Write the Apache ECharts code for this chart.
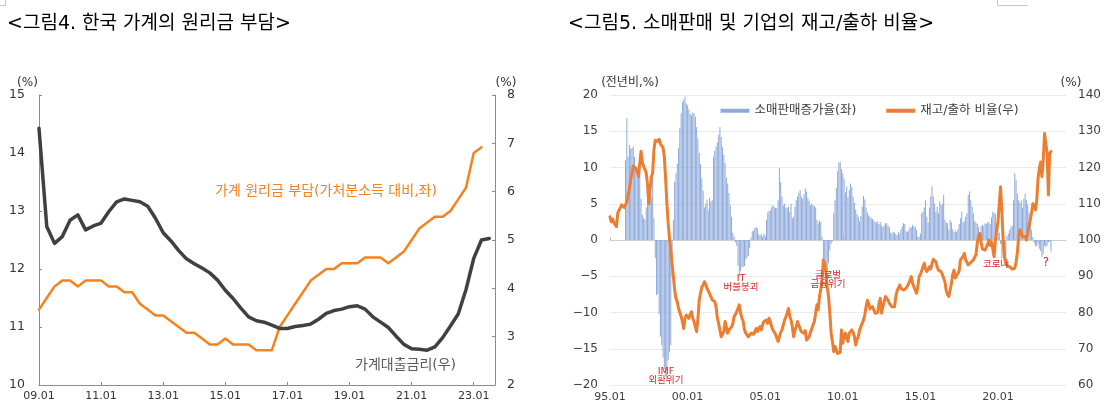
<!DOCTYPE html>
<html><head><meta charset="utf-8">
<script src="https://cdn.jsdelivr.net/npm/echarts@6/dist/echarts.min.js"></script>
<style>html,body{margin:0;padding:0;background:#fff}#c{width:1118px;height:414px}</style>
</head><body><div id="c"></div>
<script>
// ---------- Figure 4 : quarterly, 2009 Q1 .. ----------
const leftStartQuarter = '09.01';
const leftTickLabels = ['09.01','11.01','13.01','15.01','17.01','19.01','21.01','23.01'];
const leftLeftTicks = [10, 11, 12, 13, 14, 15];
const leftRightTicks = [2, 3, 4, 5, 6, 7, 8];
// 가계 원리금 부담(가처분소득 대비, %)  - left axis
const burden = [11.3, 11.5, 11.7, 11.8, 11.8, 11.7, 11.8, 11.8, 11.8, 11.7, 11.7, 11.6,
  11.6, 11.4, 11.3, 11.2, 11.2, 11.1, 11.0, 10.9, 10.9, 10.8, 10.7, 10.7,
  10.8, 10.7, 10.7, 10.7, 10.6, 10.6, 10.6, 11.0, 11.2, 11.4, 11.6, 11.8,
  11.9, 12.0, 12.0, 12.1, 12.1, 12.1, 12.2, 12.2, 12.2, 12.1, 12.2, 12.3,
  12.5, 12.7, 12.8, 12.9, 12.9, 13.0, 13.2, 13.4, 14.0, 14.1];
// 가계대출금리(%) - right axis
const loanRate = [7.31, 5.28, 4.93, 5.07, 5.41, 5.52, 5.21, 5.29, 5.35, 5.59, 5.79, 5.85,
  5.82, 5.79, 5.70, 5.45, 5.15, 4.98, 4.78, 4.61, 4.51, 4.42, 4.32, 4.17,
  3.96, 3.79, 3.59, 3.41, 3.33, 3.30, 3.24, 3.17, 3.17, 3.21, 3.23, 3.26,
  3.36, 3.48, 3.54, 3.57, 3.62, 3.64, 3.57, 3.41, 3.30, 3.19, 3.01, 2.84,
  2.75, 2.74, 2.72, 2.79, 2.98, 3.22, 3.47, 3.97, 4.62, 5.00, 5.03];

// ---------- Figure 5 : monthly, from 1995.01 ----------
const rightTickLabels = ['95.01','00.01','05.01','10.01','15.01','20.01'];
const rightLeftTicks = [-20, -15, -10, -5, 0, 5, 10, 15, 20];
const rightRightTicks = [60, 70, 80, 90, 100, 110, 120, 130, 140];
const retailStart = '1996.01';
// 소매판매증가율 (전년비, %) - left axis
const retailGrowth = [
  11.0, 16.8, 11.5, 13.1, 12.6, 12.7, 12.9, 11.5, 9.5, 8.7, 10.5, 9.8,      // 1996
  5.7, 3.5, 3.0, 2.8, 4.5, 5.8, 5.9, 5.7, 6.0, 8.7, 3.0, -2.5,              // 1997
  -7.6, -7.4, -10.2, -13.3, -14.5, -16.2, -17.8, -18.8, -19.5, -16.6, -15.5, -14.5, // 1998
  -5.0, 2.8, 8.0, 9.2, 10.5, 12.7, 15.5, 17.5, 19.0, 19.3, 19.8, 18.8,      // 1999
  18.6, 18.0, 17.4, 17.2, 17.6, 17.5, 17.0, 15.6, 14.0, 12.0, 10.5, 8.5,    // 2000
  6.8, 4.5, 5.0, 5.6, 4.1, 5.8, 5.3, 5.5, 11.5, 12.3, 12.9, 13.5,           // 2001
  14.5, 15.6, 14.2, 12.8, 11.8, 10.6, 8.6, 7.8, 6.5, 4.8, 3.2, 1.0,         // 2002
  0.5, -0.3, -0.8, -3.6, -5.0, -4.3, -3.8, -3.7, -3.6, -2.7, -2.4, -2.2,    // 2003
  -1.1, 0.3, 1.2, 1.3, 1.7, 1.8, 1.6, 0.8, 0.7, 0.8, 0.5, 0.9,              // 2004
  0.6, 2.8, 3.8, 4.0, 4.1, 4.6, 4.8, 4.6, 4.4, 4.4, 5.5, 9.9,               // 2005
  8.0, 6.0, 4.8, 5.0, 4.5, 4.4, 4.6, 3.9, 5.0, 3.0, 3.2, 4.6,               // 2006
  5.5, 6.0, 6.5, 6.9, 6.0, 5.7, 6.3, 7.1, 6.7, 5.8, 5.4, 4.8,               // 2007
  5.0, 4.8, 4.7, 4.5, 2.8, 2.3, 2.7, 2.5, 0.5, -5.1, -4.1, -3.7,            // 2008
  -4.4, -3.2, -1.4, -0.5, -0.2, 3.7, 5.5, 7.2, 9.5, 10.7, 10.8, 9.8,        // 2009
  9.2, 8.5, 6.6, 7.4, 5.9, 6.9, 7.8, 7.3, 6.0, 5.1, 4.2, 3.6,               // 2010
  3.2, 2.6, 3.3, 4.6, 6.1, 5.6, 4.5, 3.8, 3.4, 3.2, 3.0, 2.9,               // 2011
  2.7, 2.5, 2.4, 2.6, 2.2, 2.5, 2.0, 1.8, 2.0, 2.3, 2.3, 2.0,               // 2012
  1.8, 1.0, 0.9, 1.1, 1.0, 0.8, 0.7, 1.1, 0.9, 1.5, 1.9, 2.3,               // 2013
  2.2, 1.2, 1.1, 1.4, 1.8, 1.7, 2.1, 1.9, 1.8, 1.4, 0.5, 0.4,               // 2014
  0.9, 3.7, 3.9, 4.5, 5.5, 3.2, 2.4, 4.5, 6.0, 7.4, 6.0, 5.0,               // 2015
  3.9, 4.6, 3.7, 5.3, 4.8, 5.0, 6.2, 2.8, 2.4, 2.3, 1.4, 2.8,               // 2016
  2.4, 1.5, 1.1, 1.3, 1.1, 1.5, 2.2, 3.0, 3.9, 2.5, 2.6, 3.2,               // 2017
  3.7, 6.2, 6.7, 5.5, 4.6, 3.7, 2.6, 2.4, 2.2, 1.8, 0.9, 1.9,               // 2018
  2.1, 1.9, 2.3, 2.2, 2.4, 2.5, 2.2, 3.1, 3.9, 3.8, 3.6, 1.2,               // 2019
  2.0, 1.0, -0.5, -2.5, -0.2, -1.0, -2.8, 0.6, 0.9, 1.4, 1.8, 2.0,          // 2020
  5.5, 9.2, 8.3, 6.4, 5.5, 5.1, 5.5, 4.5, 5.7, 6.4, 5.5, 4.9,               // 2021
  3.8, 2.6, 1.4, 0.4, -0.4, -0.8, -0.9, -0.6, -1.2, -1.5, -2.3, -1.9,       // 2022
  -0.8, -1.0, -0.8, -0.3, -0.2, -1.6                                        // 2023
];
const ratioStart = '1995.01';
// 재고/출하 비율 (%) - right axis
const invShipRatio = [
  106.4, 105.0, 105.8, 104.8, 105.3, 103.7, 107.5, 108.2, 108.5, 109.7, 109.4, 109.0, // 1995
  108.7, 110.5, 112.5, 114.0, 116.6, 118.5, 120.4, 120.5, 119.8, 118.8, 117.5, 117.0, // 1996
  124.5, 121.5, 120.3, 119.5, 118.5, 115.5, 110.0, 114.0, 117.5, 118.5, 125.0, 127.5, // 1997
  128.0, 127.2, 127.8, 126.5, 127.0, 125.5, 123.0, 117.0, 110.0, 104.5, 100.5, 97.2,  // 1998
  93.5, 90.0, 86.2, 83.9, 83.0, 81.1, 80.7, 78.9, 77.5, 75.6, 78.4, 79.3,   // 1999
  79.3, 78.4, 79.5, 80.2, 78.4, 77.5, 76.0, 74.7, 78.4, 83.4, 85.3, 87.0,   // 2000
  87.6, 88.5, 87.8, 86.7, 86.0, 85.7, 84.4, 83.5, 83.0, 83.0, 81.6, 78.5,   // 2001
  77.0, 75.2, 73.3, 74.0, 74.7, 77.5, 76.1, 74.3, 75.2, 75.2, 76.0, 77.0,   // 2002
  78.9, 79.5, 80.2, 80.7, 82.1, 79.8, 78.5, 77.5, 75.2, 74.3, 74.0, 73.3,   // 2003
  72.9, 74.3, 73.8, 74.0, 74.7, 75.6, 74.7, 75.5, 76.1, 75.2, 76.6, 77.5,   // 2004
  77.5, 77.9, 77.0, 78.4, 77.5, 76.1, 75.2, 75.6, 74.0, 72.9, 72.0, 73.3,   // 2005
  74.5, 75.2, 76.6, 77.9, 78.8, 79.8, 81.1, 79.0, 77.9, 76.1, 73.3, 75.0,   // 2006
  76.1, 77.5, 77.5, 75.5, 74.7, 75.0, 74.3, 75.0, 72.4, 72.0, 73.3, 74.5,   // 2007
  75.6, 75.2, 77.5, 79.8, 82.1, 80.7, 84.4, 86.5, 89.0, 94.5, 93.6, 91.0,   // 2008
  87.0, 84.4, 79.8, 74.3, 72.0, 69.2, 70.6, 69.7, 68.7, 68.9, 69.0, 75.2,   // 2009
  71.5, 73.5, 74.3, 72.9, 72.0, 74.3, 73.8, 75.2, 74.5, 73.3, 71.0, 72.5,   // 2010
  73.3, 75.2, 76.1, 77.0, 77.9, 79.3, 81.6, 83.4, 82.5, 81.0, 80.7, 81.6,   // 2011
  81.6, 79.8, 80.0, 80.0, 82.5, 83.9, 79.8, 81.6, 83.0, 84.4, 84.8, 83.4,   // 2012
  82.5, 82.0, 81.6, 81.6, 81.6, 84.4, 86.0, 86.7, 87.6, 86.7, 87.1, 86.2,   // 2013
  86.5, 86.7, 86.5, 88.0, 88.0, 89.9, 88.0, 87.5, 86.2, 85.3, 87.0, 89.9,   // 2014
  90.5, 91.5, 92.6, 93.6, 92.0, 91.3, 91.7, 92.6, 92.0, 93.5, 94.7, 94.9,   // 2015
  94.0, 92.5, 91.7, 91.5, 91.3, 90.5, 90.0, 88.5, 86.0, 85.0, 84.4, 86.2,   // 2016
  88.0, 90.5, 91.7, 89.5, 89.9, 90.8, 91.5, 94.5, 94.9, 95.5, 96.3, 94.5,   // 2017
  94.0, 93.1, 93.5, 93.8, 93.5, 94.5, 94.5, 96.0, 99.1, 101.0, 101.8, 99.3, // 2018
  97.5, 98.0, 97.2, 97.5, 98.8, 100.0, 98.5, 99.5, 99.0, 95.4, 100.0, 103.0, // 2019
  105.0, 110.0, 114.7, 108.0, 100.0, 95.4, 93.6, 93.0, 92.8, 92.6, 92.2, 92.0, // 2020
  92.4, 92.2, 94.0, 96.5, 100.9, 102.8, 101.8, 101.0, 100.5, 101.0, 100.0, 101.8, // 2021
  103.7, 103.5, 107.5, 110.0, 109.0, 108.3, 111.0, 117.0, 119.8, 121.5, 117.5, 122.0, // 2022
  129.4, 129.6, 123.9, 112.4, 123.9, 124.4                                  // 2023
];

// ---------- helpers ----------
const quarterIndex = s => (parseInt(s.slice(0, 2), 10) - parseInt(leftStartQuarter.slice(0, 2), 10)) * 4;
const yy = s => { const v = parseInt(s.slice(0, 2), 10); return v < 50 ? 2000 + v : 1900 + v; };
const monthIndex = s => (parseInt(s.slice(0, 4), 10) - 1995) * 12 + parseInt(s.slice(5, 7), 10) - 1;
const monthIndexShort = s => (yy(s) - 1995) * 12;

const leftTickVals = leftTickLabels.map(quarterIndex);
const leftLabelMap = {}; leftTickLabels.forEach((l, i) => leftLabelMap[leftTickVals[i]] = l);
const rightTickVals = rightTickLabels.map(monthIndexShort);
const rightLabelMap = {}; rightTickLabels.forEach((l, i) => rightLabelMap[rightTickVals[i]] = l);

const burdenData = burden.map((v, i) => [i, v]);
const rateData = loanRate.map((v, i) => [i, v]);
const r0 = monthIndex(retailStart), q0 = monthIndex(ratioStart);
const retailData = retailGrowth.map((v, i) => [r0 + i, v]);
const ratioData = invShipRatio.map((v, i) => [q0 + i, v]);

const NUM = 'DejaVu Sans';
const KR = '"DejaVu Sans", "Noto Sans CJK KR", sans-serif';
const AX = '#8c8c8c';

const chart = echarts.init(document.getElementById('c'), null, {renderer: 'canvas'});

function txt(text, x, y, size, color, align, family, weight) {
  return {type: 'text', silent: true, z: 50,
    style: {text: text, x: x, y: y, fill: color, fontSize: size, fontFamily: family || KR,
      fontWeight: weight || 'normal',
      align: align || 'left', textAlign: align || 'left', verticalAlign: 'middle', textVerticalAlign: 'middle'}};
}

const option = {
  animation: false,
  backgroundColor: '#ffffff',
  grid: [
    {left: 39, top: 95, width: 456, height: 290},
    {left: 610, top: 95, width: 456, height: 290}
  ],
  legend: {
    left: 720.5, top: 104.5, padding: 0, itemWidth: 29, itemHeight: 4, itemGap: 30,
    textStyle: {fontSize: 12.5, color: '#404040', fontFamily: KR},
    data: [{name: '소매판매증가율(좌)', icon: 'rect'}, {name: '재고/출하 비율(우)', icon: 'rect'}]
  },
  xAxis: [
    {type: 'value', gridIndex: 0, min: 0, max: 58.74,
      axisLine: {show: true, onZero: false, lineStyle: {color: AX, width: 1}},
      axisTick: {show: true, inside: true, length: 3, customValues: leftTickVals, lineStyle: {color: AX}},
      axisLabel: {customValues: leftTickVals, formatter: v => leftLabelMap[v] || '', margin: 6,
        fontSize: 11, color: '#333', fontFamily: NUM},
      splitLine: {show: false}},
    {type: 'value', gridIndex: 1, min: 0, max: 352.6,
      axisLine: {show: false, onZero: false},
      axisTick: {show: false},
      axisLabel: {customValues: rightTickVals, formatter: v => rightLabelMap[v] || '', margin: 7,
        fontSize: 11, color: '#404040', fontFamily: NUM},
      splitLine: {show: false}},
    {type: 'value', gridIndex: 1, min: 0, max: 352.6,
      axisLine: {show: true, onZero: true, lineStyle: {color: '#cfcfcf', width: 1}},
      axisTick: {show: true, inside: false, length: 3, customValues: rightTickVals, lineStyle: {color: '#bfbfbf'}},
      axisLabel: {show: false},
      splitLine: {show: false}}
  ],
  yAxis: [
    {type: 'value', gridIndex: 0, position: 'left', min: 10, max: 15, interval: 1,
      axisLine: {show: true, onZero: false, lineStyle: {color: AX}},
      axisTick: {show: true, inside: true, length: 3, lineStyle: {color: AX}},
      axisLabel: {margin: 14, fontSize: 12.5, color: '#333', fontFamily: NUM},
      splitLine: {show: false}},
    {type: 'value', gridIndex: 0, position: 'right', min: 2, max: 8, interval: 1,
      axisLine: {show: true, onZero: false, lineStyle: {color: AX}},
      axisTick: {show: true, inside: true, length: 3, lineStyle: {color: AX}},
      axisLabel: {margin: 12, fontSize: 12.5, color: '#333', fontFamily: NUM},
      splitLine: {show: false}},
    {type: 'value', gridIndex: 1, position: 'left', min: -20, max: 20, interval: 5,
      axisLine: {show: false, onZero: false}, axisTick: {show: false},
      axisLabel: {margin: 12, fontSize: 12, color: '#404040', fontFamily: NUM,
        formatter: v => v < 0 ? '\u2212' + Math.abs(v) : String(v)},
      splitLine: {show: true, lineStyle: {color: '#ebebeb', width: 1}}},
    {type: 'value', gridIndex: 1, position: 'right', min: 60, max: 140, interval: 10,
      axisLine: {show: false, onZero: false}, axisTick: {show: false},
      axisLabel: {margin: 12, fontSize: 12, color: '#404040', fontFamily: NUM},
      splitLine: {show: false}}
  ],
  series: [
    {name: '가계 원리금 부담', type: 'line', xAxisIndex: 0, yAxisIndex: 0, data: burdenData,
      showSymbol: false, symbol: 'none', z: 3,
      lineStyle: {color: '#f5821f', width: 2.5, join: 'round', cap: 'round'}, itemStyle: {color: '#f5821f'}},
    {name: '가계대출금리', type: 'line', xAxisIndex: 0, yAxisIndex: 1, data: rateData,
      showSymbol: false, symbol: 'none', z: 4,
      lineStyle: {color: '#404040', width: 3.5, join: 'round', cap: 'round'}, itemStyle: {color: '#404040'}},
    {name: '소매판매증가율(좌)', type: 'bar', xAxisIndex: 1, yAxisIndex: 2, data: retailData,
      barWidth: 1, z: 2, itemStyle: {color: '#8eaadb'}},
    {name: '재고/출하 비율(우)', type: 'line', xAxisIndex: 1, yAxisIndex: 3, data: ratioData,
      showSymbol: false, symbol: 'none', z: 5,
      lineStyle: {color: '#ed7d31', width: 3, join: 'round', cap: 'round'}, itemStyle: {color: '#ed7d31'}}
  ],
  graphic: [
    txt('<그림4. 한국 가계의 원리금 부담>', 7, 24.5, 19, '#000'),
    txt('<그림5. 소매판매 및 기업의 재고/출하 비율>', 568, 24.5, 19, '#000'),
    txt('(%)', 27.5, 83, 12, '#333', 'center', NUM),
    txt('(%)', 506, 83, 12, '#333', 'center', NUM),
    txt('(전년비,%)', 630, 83, 12, '#333', 'center'),
    txt('(%)', 1071, 83, 12, '#333', 'center', NUM),
    txt('가계 원리금 부담(가처분소득 대비,좌)', 215, 191, 14, '#f5821f', 'left'),
    txt('가계대출금리(우)', 355, 365, 14, '#595959', 'left'),
    txt('IMF', 666, 372, 9.5, '#d42a2a', 'center'),
    txt('외환위기', 666, 381, 9.5, '#d42a2a', 'center'),
    txt('IT', 741, 279, 9.5, '#d42a2a', 'center'),
    txt('버블붕괴', 741, 288, 9.5, '#d42a2a', 'center'),
    txt('글로벌', 828, 276, 9.5, '#d42a2a', 'center'),
    txt('금융위기', 828, 285, 9.5, '#d42a2a', 'center'),
    txt('코로나', 996, 265, 9.5, '#d42a2a', 'center'),
    txt('?', 1046, 263, 12, '#d42a2a', 'center', NUM),
    {type: 'polyline', silent: true, shape: {points: [[0, 5.5], [5.5, 5.5], [5.5, 0]]},
      style: {stroke: '#c8c8c8', lineWidth: 1, fill: null}},
    {type: 'polyline', silent: true, shape: {points: [[997.5, 0], [997.5, 5.5], [1028, 5.5]]},
      style: {stroke: '#c8c8c8', lineWidth: 1, fill: null}}
  ]
};
chart.setOption(option);
</script>
</body></html>
